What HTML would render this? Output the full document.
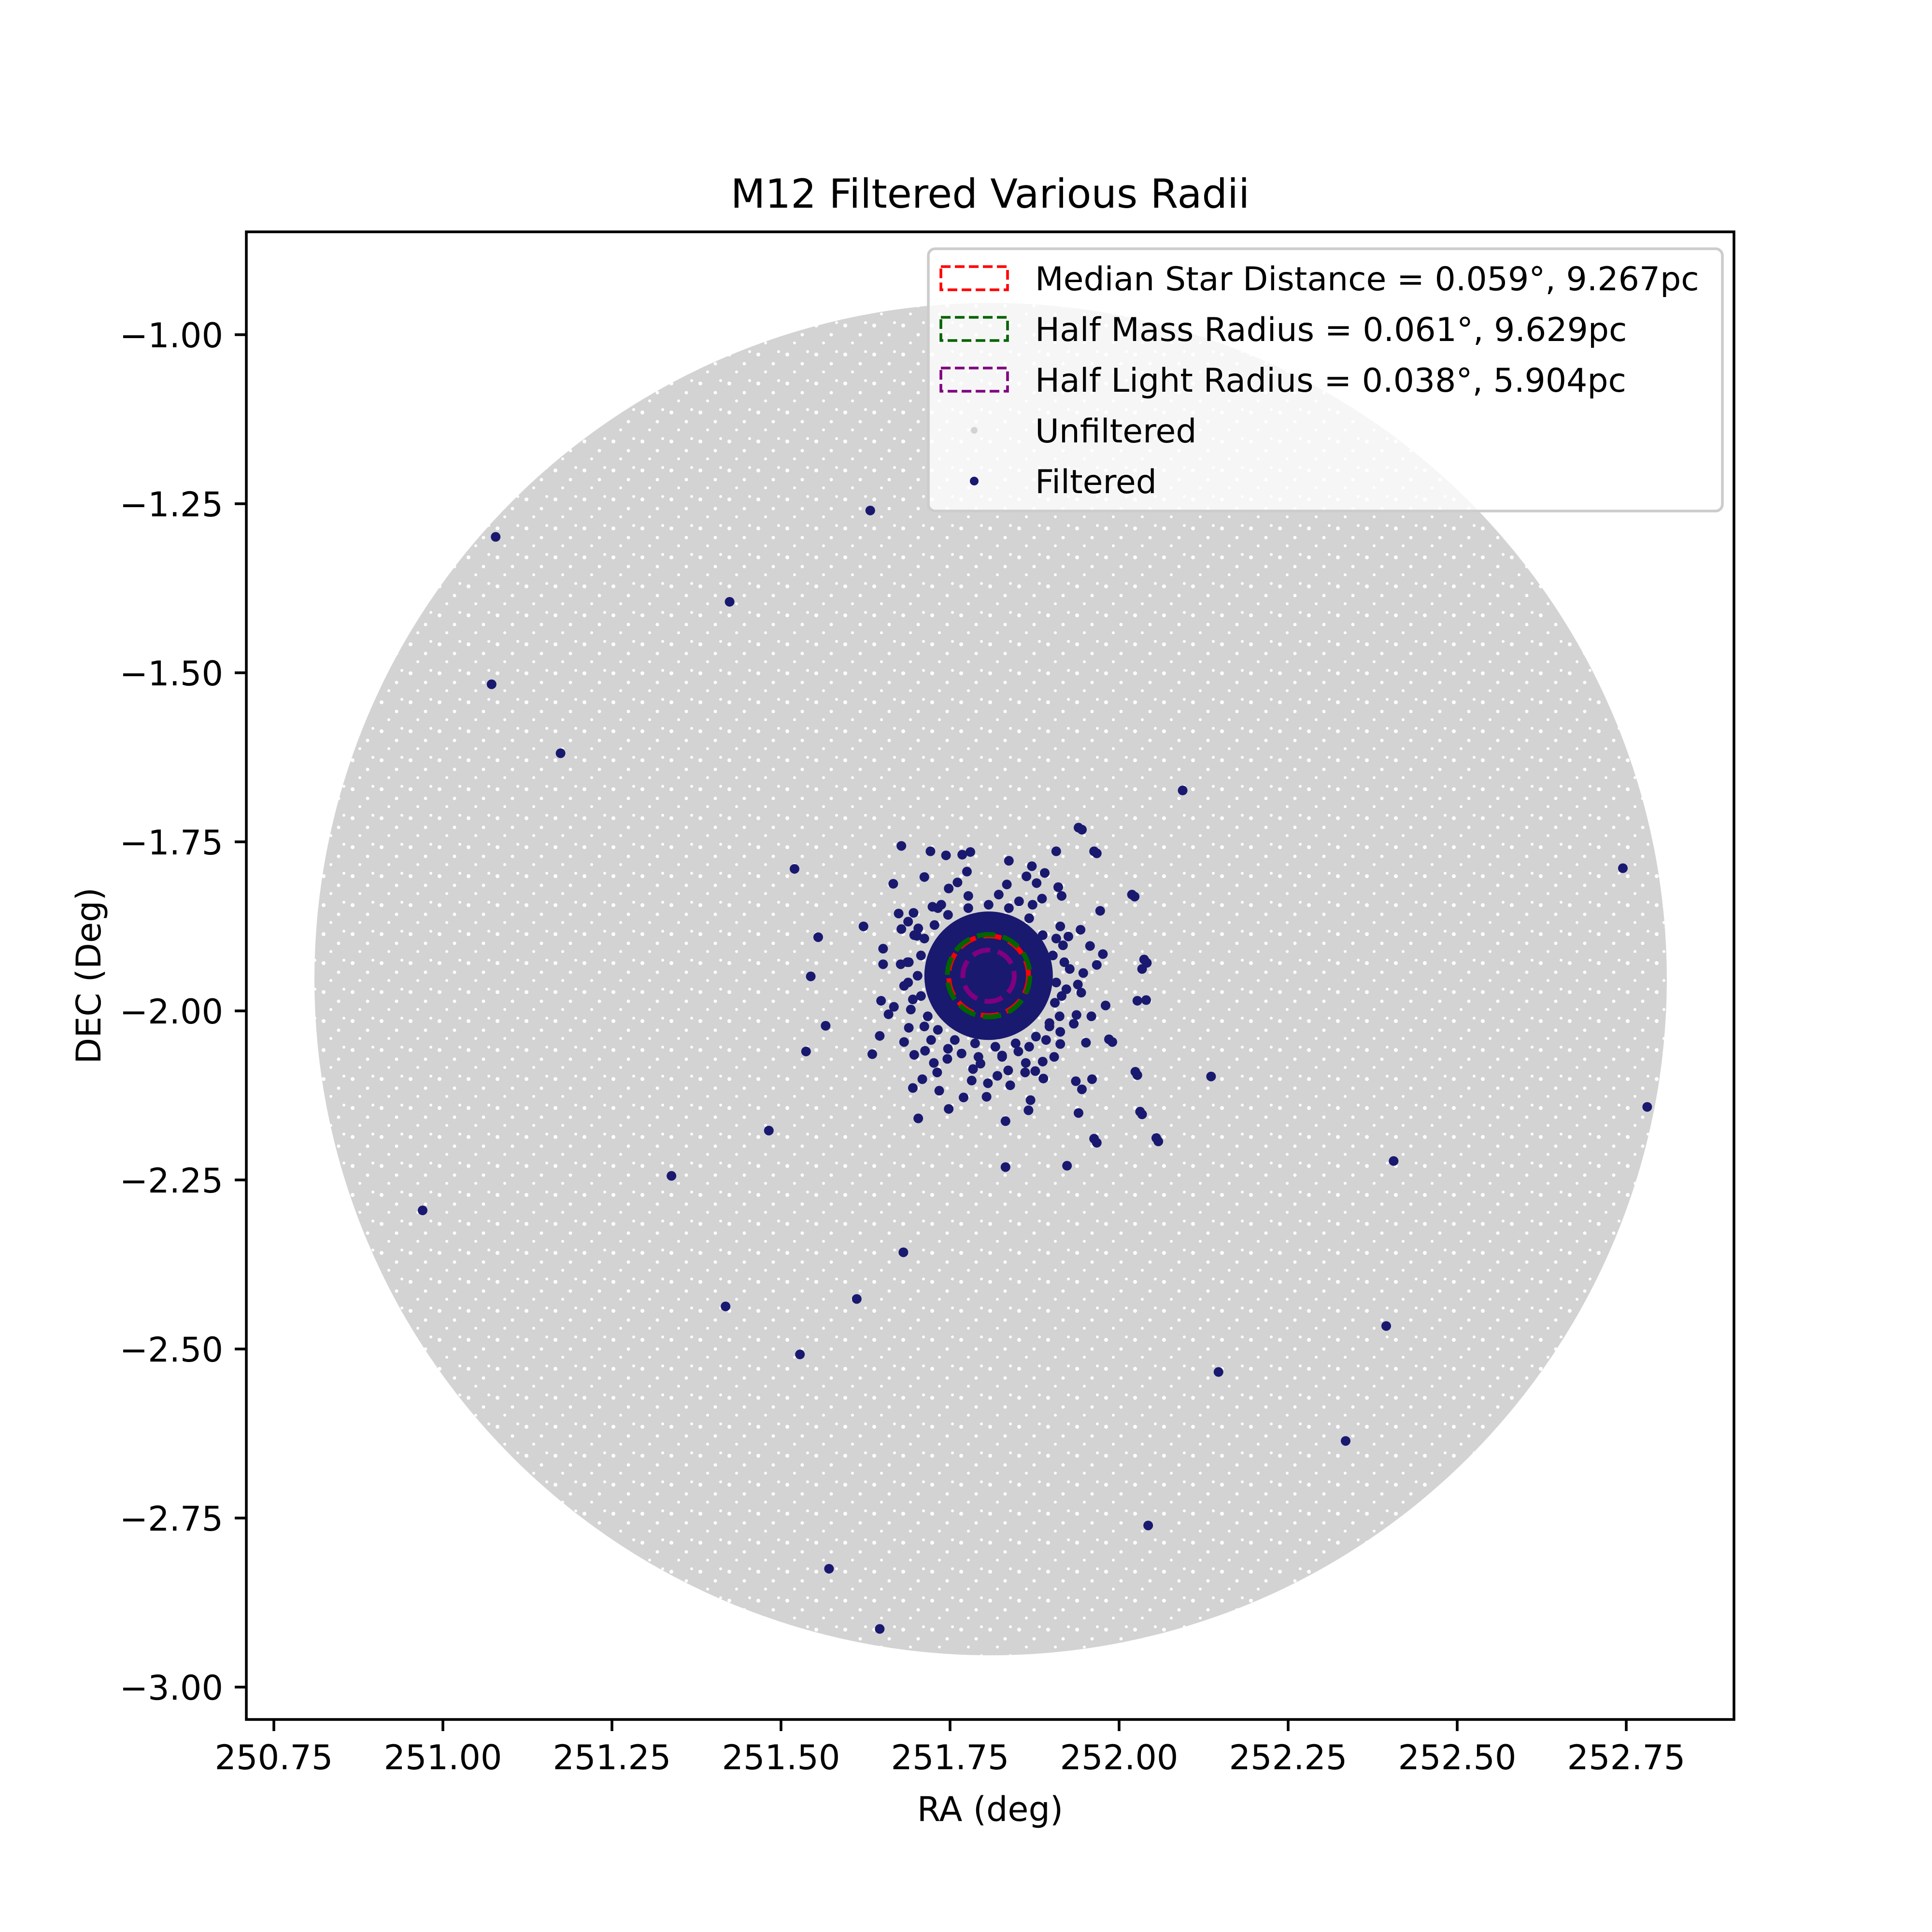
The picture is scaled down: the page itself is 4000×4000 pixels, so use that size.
<!DOCTYPE html>
<html><head><meta charset="utf-8"><style>
html,body{margin:0;padding:0;background:#fff;}
svg{display:block;font-family:"DejaVu Sans","Liberation Sans",sans-serif;}
</style></head><body>
<svg id="chart" width="4000" height="4000" viewBox="0 0 4000 4000" xmlns="http://www.w3.org/2000/svg">
<rect width="4000" height="4000" fill="#fff"/>
<defs>
<clipPath id="axclip"><rect x="510" y="480" width="3080" height="3080"/></clipPath>
<pattern id="speckle" width="60" height="60" patternUnits="userSpaceOnUse">
<rect width="60" height="60" fill="#d3d3d3"/>
<circle cx="10" cy="14" r="4" fill="#fff"/><circle cx="41" cy="33" r="3.5" fill="#fff"/>
<circle cx="25" cy="50" r="3" fill="#fff"/><circle cx="52" cy="8" r="3" fill="#fff"/>
</pattern>
</defs>
<g id="plot" clip-path="url(#axclip)"></g>
<g id="axes"></g>
<text x="2050" y="430" font-size="83" text-anchor="middle">M12 Filtered Various Radii</text>
<text x="2050" y="3770" font-size="70" text-anchor="middle">RA (deg)</text>
<text x="0" y="0" font-size="70" text-anchor="middle" transform="translate(208,2020) rotate(-90)">DEC (Deg)</text>
<g id="legend"></g>
</svg>
<script>
const xTicks=[250.75,251.00,251.25,251.50,251.75,252.00,252.25,252.50,252.75];
const yTicks=[-1.00,-1.25,-1.50,-1.75,-2.00,-2.25,-2.50,-2.75,-3.00];
const fieldCenter=[251.81,-1.953];
const fieldRadius=[1.0];
const clusterCenter=[251.807,-1.948];
const coreRadius=[0.095];
const radiiDeg=[0.059,0.061,0.038];
const radiiColors=["#ff0000","#006400","#800080"];
const radiiLabels=["Median Star Distance = 0.059°, 9.267pc","Half Mass Radius = 0.061°, 9.629pc","Half Light Radius = 0.038°, 5.904pc"];
const outRA=[251.078,251.632,251.424,251.072,251.174,252.094,252.745,251.520,251.945,251.967,252.023,251.555,251.544,252.041,252.040,251.990,252.027,252.136,252.781,251.482,252.034,252.058,251.967,251.923,251.832,252.406,251.338,250.970,251.681,251.612,251.418,252.395,251.528,252.147,252.335,252.043,251.571,251.646,251.537,251.566];
const outDEC=[-1.299,-1.260,-1.395,-1.517,-1.619,-1.674,-1.789,-1.790,-1.732,-1.767,-1.831,-1.891,-1.949,-1.929,-1.984,-2.046,-2.095,-2.097,-2.142,-2.177,-2.153,-2.193,-2.195,-2.229,-2.231,-2.222,-2.244,-2.295,-2.357,-2.426,-2.437,-2.466,-2.508,-2.534,-2.636,-2.761,-2.825,-2.914,-2.060,-2.022];
const haloDRA=[-0.185,-0.156,-0.156,-0.159,-0.148,-0.172,-0.161,-0.141,-0.133,-0.129,-0.130,-0.119,-0.125,-0.110,-0.112,-0.098,-0.104,-0.073,-0.059,-0.037,-0.003,0.025,0.059,0.062,0.133,0.156,0.248,0.224,0.217,0.178,0.173,0.220,0.227,0.230,0.212,0.165,0.156,0.133,0.100,0.030,-0.027,-0.039,-0.063,-0.086,-0.129,-0.095,-0.032,0.064,0.083,0.103,0.136,0.150,0.169,0.160,0.140,0.132,0.137,0.152,0.130,0.126,0.144,0.153,0.129,0.138,0.106,0.106,0.080,0.097,0.081,0.069,0.054,0.055,0.044,0.029,0.032,0.013,-0.001,-0.012,-0.023,-0.025,-0.061,-0.076,-0.081,-0.094,-0.118,-0.140,-0.111,-0.119,-0.106,-0.083,-0.059,-0.046,0.027,0.056,0.071,0.079,0.108,0.106,0.118,
0.095,0.100,0.098,0.090,0.070,0.040,0.010,-0.020,-0.050,-0.075,-0.090,-0.100,-0.105,-0.100,-0.095,-0.080,-0.060,-0.030,0.000,0.030,0.060,0.080,0.110,0.115,0.105,-0.115,-0.120,-0.110,-0.070,0.045,-0.085,0.020,-0.040,0.085,0.120,-0.125,
0.100,0.112,0.108,0.090,0.060,0.020,-0.015,-0.060,-0.095,-0.112,-0.118,-0.104,-0.075,-0.030,0.015,0.065];
const haloDDEC=[0.073,0.040,0.017,-0.037,-0.057,-0.116,-0.089,0.136,0.092,0.069,0.017,-0.010,-0.098,-0.117,-0.166,-0.153,-0.211,-0.170,-0.197,-0.180,-0.179,-0.215,-0.199,-0.184,-0.203,-0.241,-0.240,-0.201,-0.142,-0.094,-0.044,-0.037,0.010,0.024,0.120,0.096,0.184,0.219,0.184,0.170,0.183,0.179,0.178,0.184,0.192,0.146,0.154,0.162,0.152,0.131,0.068,0.044,0.032,0.016,0.004,-0.013,-0.025,-0.060,-0.058,-0.071,-0.099,-0.153,-0.156,-0.168,-0.101,-0.083,-0.127,-0.120,-0.152,-0.141,-0.143,-0.129,-0.112,-0.140,-0.162,-0.148,-0.159,-0.130,-0.138,-0.155,-0.123,-0.143,-0.129,-0.111,-0.077,-0.046,0.093,0.080,0.059,0.102,0.129,0.138,0.135,0.147,0.137,0.114,0.118,0.073,0.058,
0.030,-0.010,-0.040,-0.070,-0.090,-0.100,-0.105,-0.100,-0.095,-0.080,-0.060,-0.030,0.000,0.030,0.055,0.075,0.090,0.100,0.105,0.100,0.085,0.060,0.045,-0.020,-0.060,-0.050,0.020,0.060,0.105,0.110,-0.095,-0.120,-0.115,-0.095,0.010,-0.015,
0.055,0.020,-0.030,-0.075,-0.105,-0.118,-0.120,-0.108,-0.075,-0.035,0.020,0.070,0.100,0.118,0.120,0.105];

const NS="http://www.w3.org/2000/svg";
const X0=510,X1=3590,Y0=480,Y1=3560;
const xmin=250.7093,xmax=252.9093,ymax=-0.8479,ymin=-3.0479;
const sx=v=>X0+(v-xmin)/(xmax-xmin)*(X1-X0);
const sy=v=>Y0+(ymax-v)/(ymax-ymin)*(Y1-Y0);
const pxPerDeg=(X1-X0)/(xmax-xmin);
function mk(tag,attrs,parent){const e=document.createElementNS(NS,tag);for(const k in attrs)e.setAttribute(k,attrs[k]);parent.appendChild(e);return e;}
const plot=document.getElementById('plot'),axes=document.getElementById('axes'),legend=document.getElementById('legend');
const DOT=10;

let f=mk('circle',{cx:sx(fieldCenter[0]),cy:sy(fieldCenter[1]),r:fieldRadius[0]*pxPerDeg,fill:'url(#speckle)'},plot);



let core=mk('circle',{cx:sx(clusterCenter[0]),cy:sy(clusterCenter[1]),r:coreRadius[0]*pxPerDeg,fill:'#191970'},plot);


for(let i=0;i<haloDRA.length;i++){
  let c=mk('circle',{cx:sx(clusterCenter[0]+haloDRA[i]),cy:sy(clusterCenter[1]+haloDDEC[i]),r:DOT,fill:'#191970'},plot);
  
  
}
for(let i=0;i<outRA.length;i++){
  let c=mk('circle',{cx:sx(outRA[i]),cy:sy(outDEC[i]),r:DOT,fill:'#191970'},plot);
  
  
}
for(let i=0;i<radiiDeg.length;i++){
  let c=mk('circle',{cx:sx(clusterCenter[0]),cy:sy(clusterCenter[1]),r:radiiDeg[i]*pxPerDeg,fill:'none',stroke:radiiColors[i],'stroke-width':10,'stroke-dasharray':'38 16'},plot);
  
  
}
let fr=mk('rect',{x:X0,y:Y0,width:X1-X0,height:Y1-Y0,fill:'none',stroke:'#000','stroke-width':5.6},axes);


xTicks.forEach(v=>{
  let x=sx(v);
  let t=mk('line',{x1:x,x2:x,y1:Y1,y2:Y1+24,stroke:'#000','stroke-width':5.6},axes);
  
  
  let l=mk('text',{x:x,y:Y1+103,'font-size':70,'text-anchor':'middle'},axes);
  l.textContent=v.toFixed(2);
  
  
});
yTicks.forEach(v=>{
  let y=sy(v);
  let t=mk('line',{x1:X0-24,x2:X0,y1:y,y2:y,stroke:'#000','stroke-width':5.6},axes);
  
  
  let l=mk('text',{x:X0-48,y:y+26,'font-size':70,'text-anchor':'end'},axes);
  l.textContent='\u2212'+Math.abs(v).toFixed(2);
  
  
});
let lb=mk('rect',{x:1922,y:515,width:1644,height:543,rx:14,fill:'#fff','fill-opacity':0.8,stroke:'#cccccc','stroke-width':5.6},legend);


const rowY=[576,681,786,891,996];
for(let i=0;i<3;i++){
  let p=mk('rect',{x:1948,y:rowY[i]-24,width:138,height:48,fill:'none',stroke:radiiColors[i],'stroke-width':5.6,'stroke-dasharray':'20 9'},legend);
  
  
  let t=mk('text',{x:2143,y:rowY[i]+25,'font-size':68},legend);
  t.textContent=radiiLabels[i];
  
  
}
let ug=mk('circle',{cx:2017,cy:rowY[3],r:7,fill:'#d3d3d3'},legend);


let ut=mk('text',{x:2143,y:rowY[3]+25,'font-size':68},legend);
ut.textContent='Unfiltered';


let fg=mk('circle',{cx:2017,cy:rowY[4],r:9,fill:'#191970'},legend);


let ft=mk('text',{x:2143,y:rowY[4]+25,'font-size':68},legend);
ft.textContent='Filtered';


</script>
</body></html>
